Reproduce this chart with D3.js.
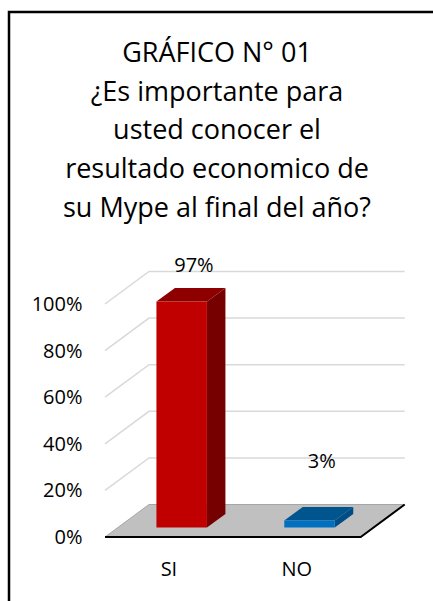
<!DOCTYPE html>
<html>
<head>
<meta charset="utf-8">
<script src="https://cdn.jsdelivr.net/npm/d3@7"></script>
<style>
  body { margin: 0; background: #fff; }
  svg { display: block; }
  text { font-family: "Open Sans", "Noto Sans", sans-serif; fill: #000; }
</style>
</head>
<body>
<div id="chart"></div>
<script>
var categories = ["SI", "NO"];
var values = [97, 3];
var valueLabels = ["97%", "3%"];
var yTicks = [0, 20, 40, 60, 80, 100];
var titleLines = [
  "GRÁFICO N° 01",
  "¿Es importante para",
  "usted conocer el",
  "resultado economico de",
  "su Mype al final del año?"
];

var width = 433, height = 601;

// front plane of the 3d box, depth offset towards the back wall
var plot = { left: 105, right: 360.7, top: 304, bottom: 537 };
var depth = { dx: 44, dy: -32.5 };
var barDepth = [0.29, 0.71];

var svg = d3.select("#chart").append("svg")
  .attr("width", width)
  .attr("height", height);

// frame
svg.append("path")
  .attr("d", "M9,601 V12 H433")
  .attr("fill", "none")
  .attr("stroke", "#000")
  .attr("stroke-width", 2.5);

// title
svg.append("g").attr("class", "title")
  .selectAll("text")
  .data(titleLines)
  .enter()
  .append("text")
  .attr("x", 217)
  .attr("y", function(d, i) { return 62 + i * 38.7; })
  .attr("text-anchor", "middle")
  .style("font-size", "27px")
  .text(function(d) { return d; });

var x = d3.scaleBand()
  .domain(categories)
  .range([plot.left, plot.right]);

var y = d3.scaleLinear()
  .domain([0, 100])
  .range([plot.bottom, plot.top]);

// data labels sit on their own line above the bars
var labelY = d3.scaleLinear()
  .domain([0, 100])
  .range([474.6, 265.6]);

function pt(px, py, z) {
  return [px + z * depth.dx, py + z * depth.dy];
}

var line = d3.line();

// gridlines: diagonal on the side, straight on the back wall
var grid = svg.append("g").attr("class", "grid");
yTicks.filter(function(t) { return t > 0; }).forEach(function(t) {
  grid.append("path")
    .attr("d", line([pt(plot.left, y(t), 0), pt(plot.left, y(t), 1), pt(plot.right, y(t), 1)]))
    .attr("fill", "none")
    .attr("stroke", "#d9d9d9")
    .attr("stroke-width", 1.5);
});

// floor
svg.append("path")
  .attr("d", line([pt(plot.left, y(0), 0), pt(plot.right, y(0), 0), pt(plot.right, y(0), 1), pt(plot.left, y(0), 1)]) + "Z")
  .attr("fill", "#c0c0c0")
  .attr("stroke", "#a6a6a6")
  .attr("stroke-width", 1);

svg.append("path")
  .attr("d", line([pt(plot.left, y(0), 0), pt(plot.right, y(0), 0), pt(plot.right, y(0), 1)]))
  .attr("fill", "none")
  .attr("stroke", "#000")
  .attr("stroke-width", 2);

// bars
var colors = {
  SI: { front: "#c00000", top: "#8e0000", side: "#760000" },
  NO: { front: "#0070c0", top: "#00558f", side: "#004d85" }
};
var barW = x.bandwidth() * 0.395;

var bars = svg.append("g").attr("class", "bars")
  .selectAll("g")
  .data(categories.map(function(c, i) { return { category: c, value: values[i] }; }))
  .enter()
  .append("g");

bars.each(function(d) {
  var g = d3.select(this);
  var x0 = x(d.category) + (x.bandwidth() - barW) / 2;
  var x1 = x0 + barW;
  var zf = barDepth[0], zb = barDepth[1];
  var yv = y(d.value), y0 = y(0);
  var c = colors[d.category];

  g.append("path")
    .attr("d", line([pt(x1, yv, zf), pt(x1, yv, zb), pt(x1, y0, zb), pt(x1, y0, zf)]) + "Z")
    .attr("fill", c.side);
  g.append("path")
    .attr("d", line([pt(x0, yv, zf), pt(x1, yv, zf), pt(x1, yv, zb), pt(x0, yv, zb)]) + "Z")
    .attr("fill", c.top);
  g.append("path")
    .attr("d", line([pt(x0, yv, zf), pt(x1, yv, zf), pt(x1, y0, zf), pt(x0, y0, zf)]) + "Z")
    .attr("fill", c.front);
});

// value labels
svg.append("g").attr("class", "labels")
  .selectAll("text")
  .data(values)
  .enter()
  .append("text")
  .attr("x", function(d, i) { return x(categories[i]) + x.bandwidth() / 2 + 25; })
  .attr("y", function(d) { return labelY(d); })
  .attr("text-anchor", "middle")
  .style("font-size", "20px")
  .text(function(d, i) { return valueLabels[i]; });

// y axis labels
svg.append("g").attr("class", "y_axis")
  .selectAll("text")
  .data(yTicks)
  .enter()
  .append("text")
  .attr("x", 82.5)
  .attr("y", function(d) { return y(d); })
  .attr("dy", "0.35em")
  .attr("text-anchor", "end")
  .style("font-size", "20px")
  .text(function(d) { return d + "%"; });

// category labels
svg.append("g").attr("class", "x_axis")
  .selectAll("text")
  .data(categories)
  .enter()
  .append("text")
  .attr("x", function(d) { return x(d) + x.bandwidth() / 2; })
  .attr("y", 575.7)
  .attr("text-anchor", "middle")
  .style("font-size", "20px")
  .text(function(d) { return d; });
</script>
</body>
</html>
